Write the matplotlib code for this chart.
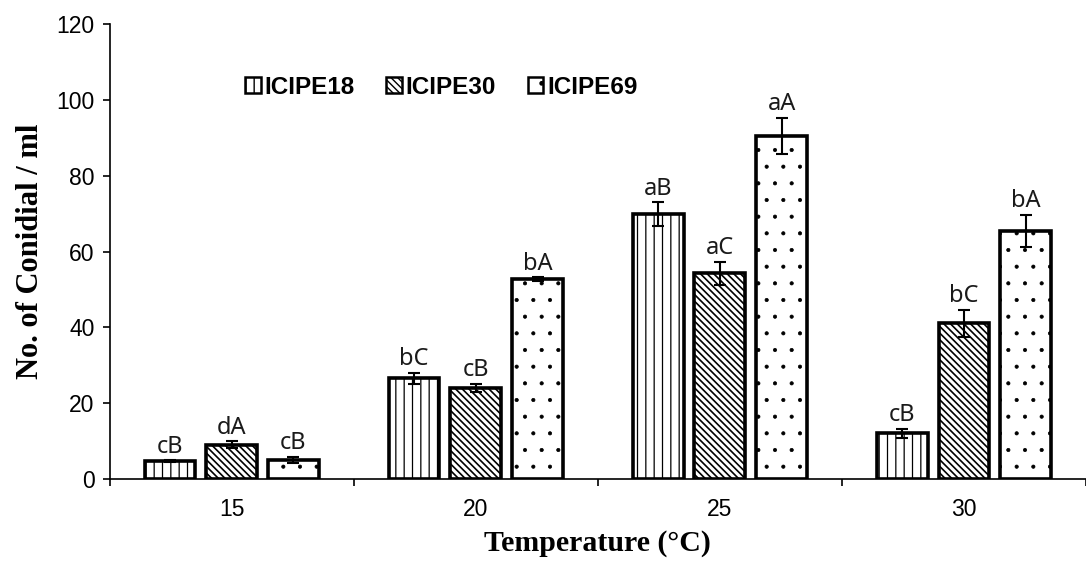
import matplotlib
matplotlib.use("Agg")
import matplotlib.pyplot as plt
import numpy as np

temps = ["15", "20", "25", "30"]
strains = ["ICIPE18", "ICIPE30", "ICIPE69"]
icipe18 = [4.7, 26.6, 69.9, 12.1]
icipe30 = [9.1, 24.0, 54.3, 41.1]
icipe69 = [5.0, 52.8, 90.5, 65.5]
err18 = [0.3, 1.4, 3.1, 1.2]
err30 = [0.8, 1.1, 3.1, 3.5]
err69 = [0.9, 0.5, 4.8, 4.2]
lab18 = ["cB", "bC", "aB", "cB"]
lab30 = ["dA", "cB", "aC", "bC"]
lab69 = ["cB", "bA", "aA", "bA"]

# hatch, hatch linewidth
series = [(icipe18, err18, lab18, "||", 0.9),
          (icipe30, err30, lab30, "\\\\\\\\\\", 1.2),
          (icipe69, err69, lab69, ".", 0.5)]

fig = plt.figure(figsize=(10.86, 5.62), dpi=100)
ax = fig.add_axes([0.101, 0.1477, 0.899, 0.809])

x = np.arange(len(temps))
w = 0.208
step = 0.253
for i, (vals, errs, labs, h, hlw) in enumerate(series):
    pos = x + (i - 1) * step
    with plt.rc_context({"hatch.linewidth": hlw}):
        ax.bar(pos, vals, width=w, facecolor="white", edgecolor="black",
               linewidth=2.6, hatch=h, label=strains[i], zorder=2)
    ax.errorbar(pos, vals, yerr=errs, fmt="none", ecolor="black",
                elinewidth=1.5, capsize=4.5, capthick=1.5, zorder=3)
    for p, v, e, t in zip(pos, vals, errs, labs):
        ax.text(p, v + e + 0.4, t, ha="center", va="bottom",
                fontsize=17, family="Noto Sans", color="#1a1a1a")

ax.set_xlim(-0.5, 3.484)
ax.set_ylim(0, 120)
ax.set_yticks(range(0, 121, 20))
ax.set_xticks(x)
ax.set_xticklabels(temps)
ax.set_xticks(np.arange(-0.5, 4.0, 1.0), minor=True)
ax.tick_params(axis="x", which="major", length=0, pad=14, labelsize=16.5)
ax.tick_params(axis="x", which="minor", length=5, width=1.2, direction="out")
ax.tick_params(axis="y", length=5, width=1.2, labelsize=16.5, pad=6)
for lbl in ax.get_xticklabels() + ax.get_yticklabels():
    lbl.set_family("Liberation Sans")

ax.spines["top"].set_visible(False)
ax.spines["right"].set_visible(False)
ax.spines["left"].set_linewidth(1.2)
ax.spines["bottom"].set_linewidth(1.2)

ax.set_ylabel("No. of Conidial / ml", family="Liberation Serif",
              fontweight="bold", fontsize=22, labelpad=8)
ax.set_xlabel("Temperature (\u00b0C)", family="Liberation Serif",
              fontweight="bold", fontsize=21.5, labelpad=6)

leg = ax.legend(loc="upper left", bbox_to_anchor=(0.116, 0.935), ncol=3,
                frameon=False, handlelength=0.65, handleheight=0.65,
                handletextpad=0.15, columnspacing=1.3,
                prop={"family": "Liberation Sans", "weight": "bold", "size": 17.5})
for hnd in leg.legend_handles:
    hnd.set_linewidth(1.8)

fig.savefig("out.png", dpi=100, facecolor="white")
